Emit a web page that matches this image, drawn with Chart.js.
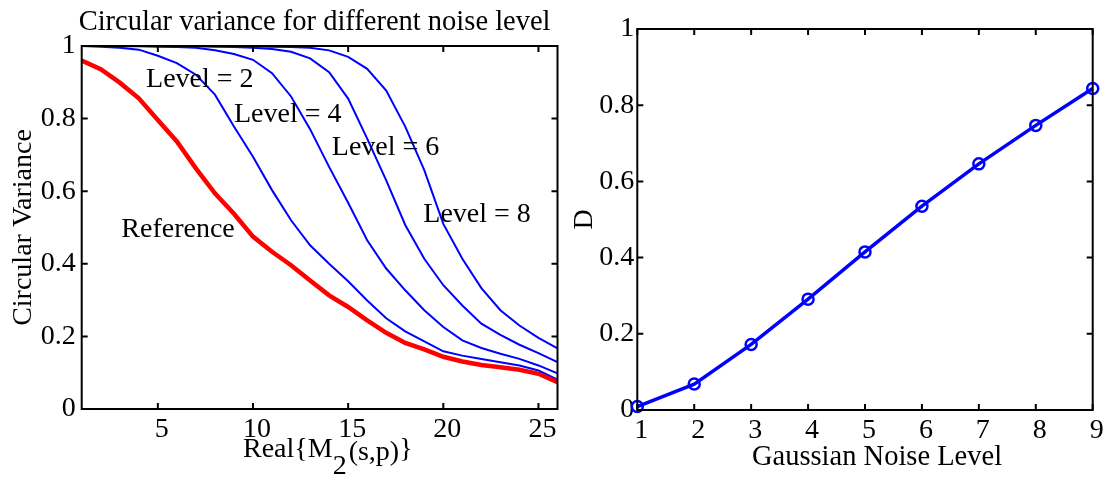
<!DOCTYPE html>
<html>
<head>
<meta charset="utf-8">
<script src="https://cdn.jsdelivr.net/npm/chart.js@4.4.0/dist/chart.umd.min.js"></script>
<style>
  html, body { margin: 0; padding: 0; background: #fff; }
  #wrap { position: relative; width: 1107px; height: 480px; overflow: hidden; }
  #left { position: absolute; left: 0; top: 0; }
  #right { position: absolute; left: 566px; top: 0; }
</style>
</head>
<body>
<div id="wrap">
  <canvas id="left" width="570" height="480"></canvas>
  <canvas id="right" width="541" height="480"></canvas>
</div>
<script>
// left panel: circular variance vs Real{M2(s,p)}
const realM2 = [1, 2, 3, 4, 5, 6, 7, 8, 9, 10, 11, 12, 13, 14, 15, 16, 17, 18, 19, 20, 21, 22, 23, 24, 25, 26];
const referenceCV = [0.960, 0.936, 0.899, 0.856, 0.796, 0.737, 0.663, 0.594, 0.538, 0.475, 0.433, 0.396, 0.354, 0.313, 0.281, 0.244, 0.210, 0.182, 0.164, 0.144, 0.131, 0.121, 0.115, 0.108, 0.097, 0.074];
const level2CV = [1.000, 0.998, 0.995, 0.990, 0.973, 0.953, 0.921, 0.866, 0.778, 0.695, 0.603, 0.520, 0.451, 0.400, 0.352, 0.299, 0.250, 0.214, 0.186, 0.159, 0.147, 0.138, 0.129, 0.120, 0.106, 0.081];
const level4CV = [1.000, 1.000, 0.999, 0.999, 0.998, 0.997, 0.995, 0.988, 0.978, 0.962, 0.925, 0.861, 0.771, 0.667, 0.568, 0.465, 0.387, 0.327, 0.272, 0.226, 0.189, 0.168, 0.152, 0.138, 0.120, 0.098];
const level6CV = [1.000, 1.000, 1.000, 1.000, 1.000, 0.999, 0.999, 0.998, 0.997, 0.995, 0.992, 0.984, 0.966, 0.928, 0.855, 0.745, 0.630, 0.507, 0.414, 0.341, 0.285, 0.235, 0.204, 0.177, 0.154, 0.129];
const level8CV = [1.000, 1.000, 1.000, 1.000, 1.000, 1.000, 1.000, 1.000, 1.000, 0.999, 0.998, 0.997, 0.995, 0.988, 0.970, 0.937, 0.877, 0.778, 0.658, 0.510, 0.414, 0.333, 0.272, 0.230, 0.196, 0.167];
const curveNames = ['Reference', 'Level = 2', 'Level = 4', 'Level = 6', 'Level = 8'];
const leftXTicks = [5, 10, 15, 20, 25];
const yTicks = [0, 0.2, 0.4, 0.6, 0.8, 1];
const leftTitle = 'Circular variance for different noise level';

// right panel: D vs gaussian noise level
const noiseLevels = [1, 2, 3, 4, 5, 6, 7, 8, 9];
const dValues = [0.009, 0.068, 0.172, 0.291, 0.415, 0.535, 0.646, 0.747, 0.844];
const rightXLabel = 'Gaussian Noise Level';

const serif = "'Liberation Serif', 'Times New Roman', serif";
Chart.defaults.font.family = serif;
Chart.defaults.font.size = 28;
Chart.defaults.color = '#000';

const pts = (xs, ys) => xs.map((v, i) => ({x: v, y: ys[i]}));

// matlab style box with inward ticks on all four sides
const frameTicks = {
  id: 'frameTicks',
  afterDatasetsDraw(chart) {
    const {ctx, chartArea: a, scales: {x, y}} = chart;
    ctx.save();
    ctx.strokeStyle = '#000';
    ctx.lineWidth = 2;
    ctx.beginPath();
    x.ticks.forEach(t => {
      const px = x.getPixelForValue(t.value);
      ctx.moveTo(px, a.bottom); ctx.lineTo(px, a.bottom - 6);
      ctx.moveTo(px, a.top); ctx.lineTo(px, a.top + 6);
    });
    y.ticks.forEach(t => {
      const py = y.getPixelForValue(t.value);
      ctx.moveTo(a.left, py); ctx.lineTo(a.left + 6, py);
      ctx.moveTo(a.right, py); ctx.lineTo(a.right - 6, py);
    });
    ctx.stroke();
    ctx.strokeRect(a.left, a.top, a.right - a.left, a.bottom - a.top);
    ctx.restore();
  }
};

// where the curve names sit, in data units (left x, baseline y)
const notePlaces = [[3.08, 0.475], [4.38, 0.888], [9.0, 0.791], [14.14, 0.700], [18.95, 0.516]];

const leftExtras = {
  id: 'leftExtras',
  afterDraw(chart) {
    const {ctx, chartArea: a, scales: {x, y}} = chart;
    ctx.save();
    ctx.fillStyle = '#000';
    ctx.textBaseline = 'alphabetic';
    // title, matlab puts it a touch left of the axes centre
    ctx.font = '28.5px ' + serif;
    ctx.textAlign = 'center';
    ctx.fillText(leftTitle, (a.left + a.right) / 2 - 5, 30);

    ctx.font = '28px ' + serif;
    ctx.textAlign = 'left';
    curveNames.forEach((name, i) => {
      const [dx, dy] = notePlaces[i];
      ctx.fillText(name, x.getPixelForValue(dx), y.getPixelForValue(dy));
    });
    // x label with the odd matlab subscript
    let px = 243;
    ctx.fillText('Real{M', px, 457);
    px += ctx.measureText('Real{M').width;
    ctx.fillText('2', px, 474);
    px += ctx.measureText('2').width + 2;
    ctx.fillText('(s,p)', px, 460);
    px += ctx.measureText('(s,p)').width;
    ctx.fillText('}', px, 457);
    ctx.restore();
  }
};

const rightExtras = {
  id: 'rightExtras',
  afterDraw(chart) {
    const {ctx, chartArea: a} = chart;
    ctx.save();
    ctx.fillStyle = '#000';
    ctx.font = '28.5px ' + serif;
    ctx.textAlign = 'center';
    ctx.textBaseline = 'alphabetic';
    ctx.fillText(rightXLabel, (a.left + a.right) / 2 + 12, 465);
    ctx.restore();
  }
};

const axisCommon = {
  grid: {display: false, drawTicks: false},
  border: {display: false},
};
const plainNum = v => String(v);

new Chart(document.getElementById('left'), {
  type: 'line',
  data: {
    datasets: [
      {label: curveNames[0], data: pts(realM2, referenceCV), borderColor: '#ff0000', borderWidth: 4.5},
      {label: curveNames[1], data: pts(realM2, level2CV), borderColor: '#0000ff', borderWidth: 2},
      {label: curveNames[2], data: pts(realM2, level4CV), borderColor: '#0000ff', borderWidth: 2},
      {label: curveNames[3], data: pts(realM2, level6CV), borderColor: '#0000ff', borderWidth: 2},
      {label: curveNames[4], data: pts(realM2, level8CV), borderColor: '#0000ff', borderWidth: 2}
    ]
  },
  options: {
    responsive: false,
    animation: false,
    devicePixelRatio: 1,
    layout: {padding: {left: 0, right: 12.5, top: 46, bottom: 0}},
    elements: {point: {radius: 0}, line: {tension: 0}},
    plugins: {legend: {display: false}, tooltip: {enabled: false}},
    scales: {
      x: {
        ...axisCommon,
        type: 'linear', min: 1, max: 26,
        afterBuildTicks: s => { s.ticks = leftXTicks.map(v => ({value: v})); },
        afterFit: s => { s.height = 71; },
        ticks: {padding: 4, labelOffset: 4, maxRotation: 0, autoSkip: false, callback: plainNum}
      },
      y: {
        ...axisCommon,
        min: 0, max: 1,
        afterBuildTicks: s => { s.ticks = yTicks.map(v => ({value: v})); },
        afterFit: s => { s.width = 81.7; },
        ticks: {padding: 6, callback: plainNum},
        title: {display: true, text: 'Circular Variance', padding: {top: 7, bottom: 0}}
      }
    }
  },
  plugins: [frameTicks, leftExtras]
});

new Chart(document.getElementById('right'), {
  type: 'line',
  data: {
    datasets: [{
      label: 'D',
      data: pts(noiseLevels, dValues),
      borderColor: '#0000ff',
      borderWidth: 3.5,
      pointRadius: 5.5,
      pointBorderWidth: 2.5,
      pointBorderColor: '#0000ff',
      pointBackgroundColor: 'rgba(0,0,0,0)',
      tension: 0,
      clip: false
    }]
  },
  options: {
    responsive: false,
    animation: false,
    devicePixelRatio: 1,
    layout: {padding: {left: 0, right: 14.3, top: 29, bottom: 0}},
    plugins: {legend: {display: false}, tooltip: {enabled: false}},
    scales: {
      x: {
        ...axisCommon,
        type: 'linear', min: 1, max: 9,
        afterBuildTicks: s => { s.ticks = noiseLevels.map(v => ({value: v})); },
        afterFit: s => { s.height = 70; },
        ticks: {padding: 4, labelOffset: 4, maxRotation: 0, autoSkip: false, callback: plainNum}
      },
      y: {
        ...axisCommon,
        min: 0, max: 1,
        afterBuildTicks: s => { s.ticks = yTicks.map(v => ({value: v})); },
        afterFit: s => { s.width = 71.3; },
        ticks: {padding: 3, callback: plainNum},
        title: {display: true, text: 'D', padding: {top: 1.7, bottom: 0}}
      }
    }
  },
  plugins: [frameTicks, rightExtras]
});
</script>
</body>
</html>
